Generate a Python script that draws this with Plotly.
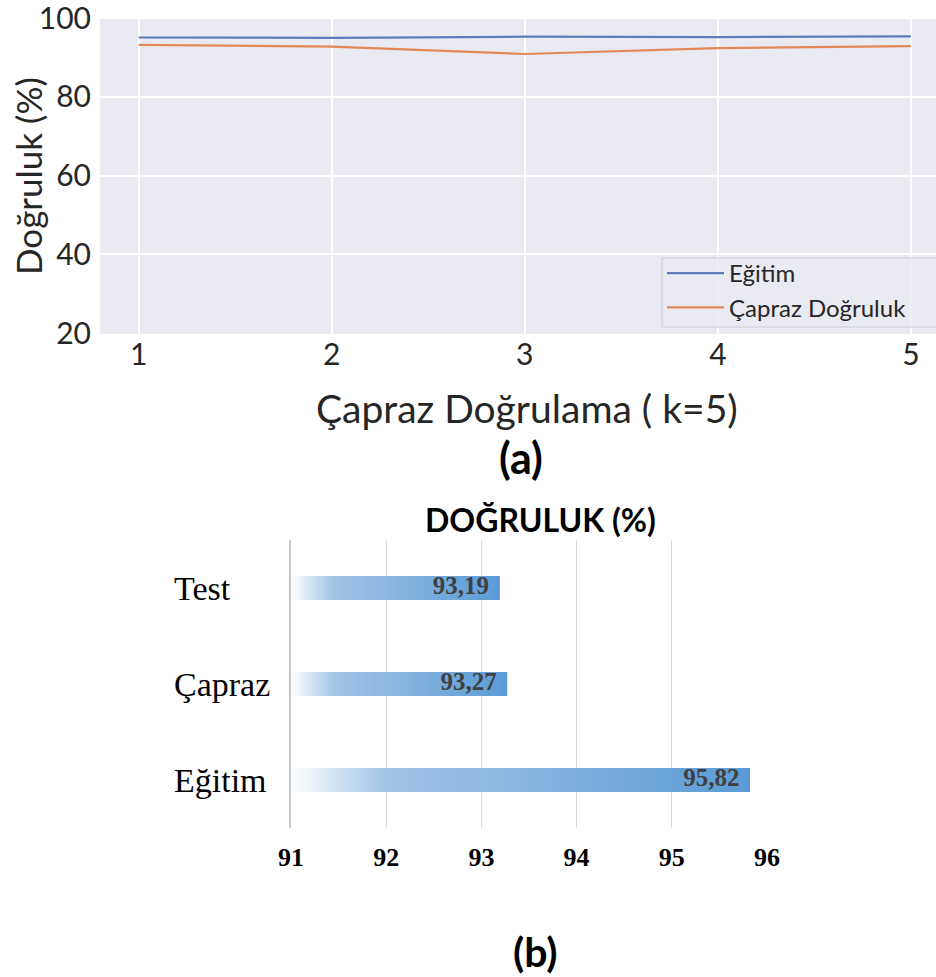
import plotly.graph_objects as go

# ---------- data (a) ----------
folds = [1, 2, 3, 4, 5]
egitim = [95.1, 95.0, 95.3, 95.2, 95.4]
capraz = [93.2, 92.8, 90.9, 92.4, 92.9]
ya_ticks = [20, 40, 60, 80, 100]

# ---------- data (b) ----------
categories = ["Eğitim", "Çapraz", "Test"]
accuracy = [95.82, 93.27, 93.19]
xb_ticks = [91, 92, 93, 94, 95, 96]
xb_start = 91

W, H = 936, 977
fig = go.Figure()

SANS = "Lato"
SERIF = "Liberation Serif"

# ---------- chart (a) ----------
fig.add_trace(go.Scatter(x=folds, y=egitim, mode="lines", name="Eğitim",
                         line=dict(color="#5E7CBA", width=2.2),
                         xaxis="x", yaxis="y"))
fig.add_trace(go.Scatter(x=folds, y=capraz, mode="lines", name="Çapraz Doğruluk",
                         line=dict(color="#E08A5C", width=2.2),
                         xaxis="x", yaxis="y"))

# ---------- chart (b): gradient bars built from segments ----------
N = 90
def grad(t):
    c0 = (255, 255, 255)
    c1 = (162, 197, 231)
    c2 = (91, 155, 213)
    if t < 0.2:
        u = t / 0.2
        a, b = c0, c1
    else:
        u = (t - 0.2) / 0.8
        a, b = c1, c2
    return "rgb(%d,%d,%d)" % tuple(round(a[k] + (b[k] - a[k]) * u) for k in range(3))

for i in range(N):
    bases, widths, cols = [], [], []
    for v in accuracy:
        L = v - xb_start
        b0 = xb_start + L * i / N
        b1 = min(xb_start + L * (i + 3) / N, v)
        bases.append(b0)
        widths.append(b1 - b0)
        cols.append(grad((i + 0.5) / N))
    fig.add_trace(go.Bar(y=categories, x=widths, base=bases, orientation="h",
                         width=0.25, marker=dict(color=cols, line=dict(width=0)),
                         showlegend=False, hoverinfo="skip",
                         xaxis="x2", yaxis="y2"))

labels = [f"{v:.2f}".replace(".", ",") for v in accuracy]
fig.add_trace(go.Scatter(x=[v - 0.11 for v in accuracy], y=categories, mode="text",
                         text=labels, textposition="middle left",
                         textfont=dict(family=SERIF, size=25, color="#404040", weight="bold"),
                         showlegend=False, hoverinfo="skip",
                         xaxis="x2", yaxis="y2"))

annotations = []
for c in categories:
    annotations.append(dict(text=c, x=172 / W, xref="paper", xanchor="left",
                            y=c, yref="y2", yanchor="middle", showarrow=False,
                            font=dict(family=SERIF, size=34, color="black")))

def ann(text, x, y, size, color="#262626", angle=0):
    return dict(text=text, x=x / W, y=1 - y / H, xref="paper", yref="paper",
                xanchor="center", yanchor="middle", textangle=angle, showarrow=False,
                font=dict(family=SANS, size=size, color=color))

annotations += [
    ann("Doğruluk (%)", 28, 176, 35, angle=-90),
    ann("Çapraz Doğrulama ( k=5)", 527, 408, 39),
    ann("<b>(a)</b>", 521, 458, 43, color="black"),
    ann("<b>DOĞRULUK (%)</b>", 540, 519, 32, color="black"),
    ann("<b>(b)</b>", 535, 951, 41, color="black"),
]

fig.update_layout(
    width=W, height=H,
    margin=dict(l=0, r=0, t=0, b=0, autoexpand=False),
    paper_bgcolor="white",
    plot_bgcolor="white",
    barmode="overlay",
    showlegend=True,
    legend=dict(x=662 / W, y=1 - 251 / H, xanchor="left", yanchor="top",
                bgcolor="rgba(0,0,0,0)", borderwidth=0,
                font=dict(family=SANS, size=24, color="#262626"),
                itemwidth=57),
    annotations=annotations,
    shapes=[
        dict(type="rect", xref="x domain", yref="y domain", x0=0, x1=1, y0=0, y1=1,
             fillcolor="#EAEAF2", line=dict(width=0), layer="below"),
        dict(type="rect", xref="paper", yref="paper",
             x0=662 / W, x1=946 / W, y0=1 - 327 / H, y1=1 - 258 / H,
             fillcolor="rgba(234,234,242,0.85)", line=dict(color="#CDCDD6", width=1.2),
             layer="above"),
    ],
    xaxis=dict(domain=[100 / W, 1], range=[0.8, 5.13], tickvals=folds,
               showgrid=True, gridcolor="white", gridwidth=1.5, zeroline=False,
               showline=False, ticks="", ticklabelstandoff=0, ticklabeloverflow="allow",
               tickfont=dict(family=SANS, size=30, color="#262626"),
               anchor="y"),
    yaxis=dict(domain=[1 - 334 / H, 1 - 17 / H], range=[19.8, 100.3], tickvals=ya_ticks,
               showgrid=True, gridcolor="white", gridwidth=1.5, zeroline=False,
               showline=False, ticks="", ticklabelstandoff=8, ticklabeloverflow="allow",
               tickfont=dict(family=SANS, size=30, color="#262626"),
               anchor="x"),
    xaxis2=dict(domain=[291 / W, 767 / W], range=[91, 96], tickvals=xb_ticks,
                showgrid=True, gridcolor="#D9D9D9", gridwidth=1, zeroline=False,
                showline=False, ticks="", ticklabelstandoff=11, ticklabeloverflow="allow",
                tickfont=dict(family=SERIF, size=26, color="black", weight="bold"),
                anchor="y2"),
    yaxis2=dict(domain=[1 - 828 / H, 1 - 540 / H], range=[-0.5, 2.5],
                categoryorder="array", categoryarray=categories,
                showgrid=False, zeroline=False, showticklabels=False,
                showline=True, linecolor="#C8C8C8", linewidth=2,
                anchor="x2"),
)

fig.write_html("out.html", config={"displayModeBar": False},
               post_script="document.body.style.margin='0px';")
